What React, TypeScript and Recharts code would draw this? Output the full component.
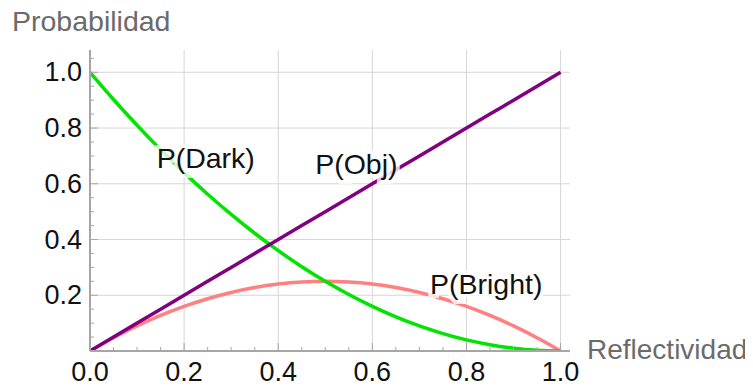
import { LineChart, Line, XAxis, YAxis, ReferenceLine, ReferenceDot } from 'recharts'

const C = { axis: '#a6a6a6', grid: '#d6d6d6', title: '#6b6b6b', text: '#111', dark: '#00e400', obj: '#800080', bright: '#ff8080' }
const FONT = '"Liberation Sans", Arial, sans-serif'

// reflectividad, paso 0.05
const reflect = [0, 0.05, 0.1, 0.15, 0.2, 0.25, 0.3, 0.35, 0.4, 0.45, 0.5, 0.55, 0.6, 0.65, 0.7, 0.75, 0.8, 0.85, 0.9, 0.95, 1]
const pObj = [0, 0.05, 0.1, 0.15, 0.2, 0.25, 0.3, 0.35, 0.4, 0.45, 0.5, 0.55, 0.6, 0.65, 0.7, 0.75, 0.8, 0.85, 0.9, 0.95, 1]
const pDark = [1, 0.9025, 0.81, 0.7225, 0.64, 0.5625, 0.49, 0.4225, 0.36, 0.3025, 0.25, 0.2025, 0.16, 0.1225, 0.09, 0.0625, 0.04, 0.0225, 0.01, 0.0025, 0]
const pBright = [0, 0.0475, 0.09, 0.1275, 0.16, 0.1875, 0.21, 0.2275, 0.24, 0.2475, 0.25, 0.2475, 0.24, 0.2275, 0.21, 0.1875, 0.16, 0.1275, 0.09, 0.0475, 0]

const xTicks = [0, 0.05, 0.1, 0.15, 0.2, 0.25, 0.3, 0.35, 0.4, 0.45, 0.5, 0.55, 0.6, 0.65, 0.7, 0.75, 0.8, 0.85, 0.9, 0.95, 1]
const yTicks = [0, 0.05, 0.1, 0.15, 0.2, 0.25, 0.3, 0.35, 0.4, 0.45, 0.5, 0.55, 0.6, 0.65, 0.7, 0.75, 0.8, 0.85, 0.9, 0.95, 1, 1.05]
const gridX = [0.2, 0.4, 0.6, 0.8, 1]
const gridY = [0.2, 0.4, 0.6, 0.8, 1]

const curveLabels = [
  { text: 'P(Dark)', x: 0.246, y: 0.692 },
  { text: 'P(Obj)', x: 0.566, y: 0.67 },
  { text: 'P(Bright)', x: 0.842, y: 0.24 },
]

const data = reflect.map((r, i) => ({ r, obj: pObj[i], dark: pDark[i], bright: pBright[i] }))

const isMajor = (v: number) => Math.abs(v * 5 - Math.round(v * 5)) < 1e-6

// eslint-disable-next-line @typescript-eslint/no-explicit-any
const XTick = (p: any) => {
  const v = p.payload.value
  const major = isMajor(v)
  return (
    <g>
      <line x1={p.x} x2={p.x} y1={p.y} y2={p.y - (major ? 8 : 4)} stroke={C.axis} strokeWidth={1} />
      {major && (
        <text x={p.x} y={p.y + 30} textAnchor="middle"
          fontSize={27} fontFamily={FONT} fill={C.text}>{v.toFixed(1)}</text>
      )}
    </g>
  )
}

// eslint-disable-next-line @typescript-eslint/no-explicit-any
const YTick = (p: any) => {
  const v = p.payload.value
  const major = isMajor(v)
  return (
    <g>
      <line x1={p.x} x2={p.x + (major ? 8 : 4)} y1={p.y} y2={p.y} stroke={C.axis} strokeWidth={1} />
      {major && v > 0 && (
        <text x={p.x - 8} y={p.y} textAnchor="end" dominantBaseline="central"
          fontSize={27} fontFamily={FONT} fill={C.text}>{v.toFixed(1)}</text>
      )}
    </g>
  )
}

// eslint-disable-next-line @typescript-eslint/no-explicit-any
const haloLabel = (text: string) => (p: any) => {
  const vb = p.viewBox
  const cx = vb.x + (vb.width || 0) / 2
  const cy = vb.y + (vb.height || 0) / 2
  return (
    <text x={cx} y={cy} textAnchor="middle" dominantBaseline="central" fontSize={28.5} fontFamily={FONT}
      fill={C.text} stroke="rgba(255,255,255,0.8)" strokeWidth={8} paintOrder="stroke">{text}</text>
  )
}

export default function App() {
  return (
    <div style={{ position: 'relative', width: 745, height: 378, fontFamily: FONT }}>
      <div style={{ position: 'absolute', left: 4, top: -3, fontSize: 28.5, color: C.title, whiteSpace: 'nowrap' }}>Probabilidad</div>
      <div style={{ position: 'absolute', left: 579, top: 326, fontSize: 28, color: C.title, whiteSpace: 'nowrap' }}>Reflectividad</div>
      <LineChart width={745} height={378} data={data} margin={{ top: 42, right: 183, bottom: 0, left: 22 }}
        style={{ overflow: 'visible' }}>
        <XAxis dataKey="r" type="number" domain={[0, 1.02]} ticks={xTicks} interval={0} height={35}
          tickSize={0} tickMargin={0} tickLine={false} tick={XTick}
          axisLine={{ stroke: C.axis, strokeWidth: 2 }} allowDataOverflow />
        <YAxis type="number" domain={[0, 1.08]} ticks={yTicks} interval={0} width={60}
          tickSize={0} tickMargin={0} tickLine={false} tick={YTick}
          axisLine={{ stroke: C.axis, strokeWidth: 2 }} allowDataOverflow />
        {gridX.map(v => <ReferenceLine key={'gx' + v} x={v} stroke={C.grid} strokeWidth={1} />)}
        {gridY.map(v => <ReferenceLine key={'gy' + v} y={v} stroke={C.grid} strokeWidth={1} />)}
        <Line dataKey="bright" type="monotone" stroke={C.bright} strokeWidth={3.5} dot={false} isAnimationActive={false} />
        <Line dataKey="dark" type="monotone" stroke={C.dark} strokeWidth={3.5} dot={false} isAnimationActive={false} />
        <Line dataKey="obj" type="monotone" stroke={C.obj} strokeWidth={3.5} dot={false} isAnimationActive={false} />
        {curveLabels.map(l => (
          <ReferenceDot key={l.text} x={l.x} y={l.y} r={0} fill="none" stroke="none" label={haloLabel(l.text)} />
        ))}
      </LineChart>
    </div>
  )
}
